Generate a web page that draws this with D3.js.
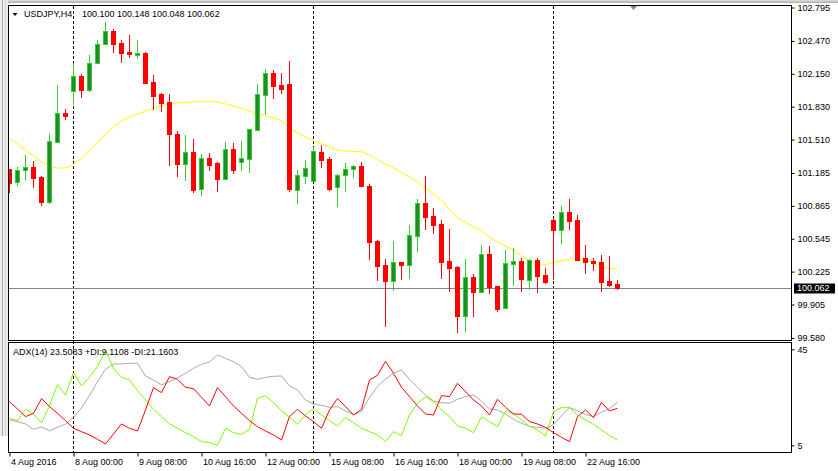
<!DOCTYPE html>
<html><head><meta charset="utf-8">
<script src="https://cdn.jsdelivr.net/npm/d3@7"></script>
<style>
html,body{margin:0;padding:0;background:#fff;}
svg{display:block;}
text{font-family:"Liberation Sans",Arial,sans-serif;}
</style></head><body>
<svg id="chart" width="838" height="471"></svg>
<script>
const symbolTitle = "USDJPY,H4";
const lastOHLC = "100.100 100.148 100.048 100.062";
const adxTitle = "ADX(14) 23.5083 +DI:9.1108 -DI:21.1603";

const openPrices = [101.224,101.094,101.211,101.243,101.146,100.905,101.489,101.769,101.986,102.129,
 101.995,102.258,102.437,102.569,102.450,102.362,102.333,102.355,102.070,101.953,
 101.876,101.564,101.269,101.389,101.026,101.328,101.282,101.129,101.415,101.295,
 101.324,101.603,101.947,102.158,102.041,102.051,101.016,101.158,101.110,101.389,
 101.321,101.046,101.162,101.221,101.253,101.055,100.523,100.290,100.137,100.319,
 100.293,100.575,100.893,100.766,100.689,100.329,100.270,99.796,100.170,100.030,
 100.397,100.085,99.874,100.302,100.329,100.147,100.338,100.192,100.727,100.633,
 100.805,100.727,100.358,100.329,100.319,100.137,100.100];
const highPrices = [101.224,101.243,101.360,101.304,101.153,101.564,102.041,101.807,102.252,102.148,
 102.333,102.479,102.657,102.583,102.479,102.527,102.479,102.365,102.138,101.966,
 101.953,101.593,101.554,101.516,101.370,101.379,101.292,101.486,101.477,101.496,
 101.613,102.051,102.197,102.187,102.158,102.275,101.214,101.311,101.435,101.457,
 101.340,101.175,101.282,101.263,101.292,101.078,100.533,100.348,100.523,100.319,
 100.679,100.935,101.156,100.844,100.727,100.643,100.280,100.348,100.205,100.487,
 100.477,100.085,100.438,100.455,100.358,100.348,100.358,100.260,100.747,100.864,
 100.935,100.776,100.484,100.358,100.387,100.377,100.148];
const lowPrices = [100.993,101.061,101.120,101.042,100.867,100.886,101.477,101.703,101.846,101.917,
 101.976,102.258,102.437,102.355,102.258,102.307,102.297,102.051,101.798,101.781,
 101.256,101.146,101.110,100.993,100.964,101.207,101.003,101.129,101.178,101.207,
 101.188,101.593,101.752,101.908,101.956,101.003,100.886,101.081,101.100,101.236,
 101.013,100.857,101.003,101.139,101.051,100.341,100.137,99.689,100.040,100.147,
 100.156,100.419,100.633,100.594,100.156,100.030,99.631,99.641,99.787,100.030,
 100.010,99.835,99.864,100.088,100.030,100.049,100.020,100.108,100.144,100.497,
 100.633,100.331,100.205,100.234,100.030,100.078,100.048];
const closePrices = [101.090,101.211,101.240,101.139,100.905,101.496,101.769,101.742,102.129,101.995,
 102.252,102.440,102.566,102.443,102.355,102.343,102.349,102.060,101.937,101.869,
 101.567,101.275,101.389,101.022,101.328,101.266,101.129,101.415,101.217,101.328,
 101.613,101.953,102.158,102.034,102.005,101.032,101.162,101.230,101.396,101.314,
 101.032,101.162,101.221,101.250,101.061,100.516,100.283,100.137,100.319,100.293,
 100.581,100.893,100.760,100.682,100.322,100.263,99.796,100.170,100.030,100.397,
 100.078,99.864,100.309,100.329,100.156,100.338,100.185,100.127,100.633,100.802,
 100.721,100.341,100.319,100.312,100.127,100.098,100.062];
const maValues = [101.516,101.467,101.409,101.350,101.292,101.253,101.233,101.233,101.272,101.331,
 101.409,101.477,101.564,101.632,101.691,101.730,101.759,101.788,101.817,101.837,
 101.856,101.866,101.871,101.876,101.880,101.885,101.876,101.856,101.837,101.812,
 101.788,101.759,101.739,101.720,101.691,101.632,101.574,101.535,101.496,101.472,
 101.438,101.409,101.399,101.394,101.392,101.360,101.316,101.272,101.233,101.190,
 101.146,101.097,101.034,100.985,100.917,100.825,100.747,100.708,100.659,100.625,
 100.562,100.513,100.474,100.436,100.377,100.329,100.304,100.290,100.314,100.329,
 100.348,100.353,100.333,100.309,100.275,100.256,100.251];
const adxValues = [16.73,16.09,15.21,13.18,14.07,12.55,13.94,15.21,17.74,21.29,
 25.98,31.30,35.99,38.01,38.01,38.27,38.27,33.45,31.93,30.03,
 31.30,32.82,34.47,36.37,37.89,38.77,41.43,40.17,38.90,37.00,
 32.95,32.19,32.95,33.33,33.45,29.65,28.13,24.33,22.81,22.30,
 21.54,21.80,20.15,18.76,19.90,25.34,29.40,32.31,34.47,35.73,
 32.19,29.14,26.23,23.95,23.32,23.06,24.58,25.60,26.23,23.95,
 20.91,20.53,19.01,16.98,15.46,14.32,13.94,13.56,15.08,18.38,
 21.42,20.28,18.76,17.99,19.77,21.04,23.51];
const plusDI = [17.36,16.47,20.78,19.01,15.71,22.05,30.28,26.23,34.72,29.78,
 32.95,37.00,43.33,36.37,32.95,31.93,27.88,24.33,20.78,17.99,
 15.21,13.56,11.91,10.39,8.49,8.11,7.10,13.56,11.91,11.28,
 13.18,24.96,25.98,23.32,20.28,17.74,15.08,18.63,21.04,18.63,
 16.47,14.45,17.61,15.71,13.56,12.29,11.03,8.49,12.29,10.77,
 18.63,23.06,25.60,23.70,20.53,17.99,14.45,13.56,11.91,17.99,
 16.10,14.19,20.15,19.26,16.73,14.45,12.93,10.65,19.90,21.42,
 21.42,18.63,16.73,15.08,12.93,10.77,9.11];
const minusDI = [23.70,20.91,17.99,19.26,24.84,21.80,19.26,16.47,13.56,12.29,
 11.03,9.38,7.61,11.41,15.21,13.56,12.55,20.53,29.02,27.12,
 33.20,32.19,29.15,28.64,25.35,22.05,29.02,25.60,22.05,19.26,
 16.47,14.19,12.55,11.03,9.13,17.99,20.78,18.25,16.10,13.56,
 20.53,24.84,21.80,18.63,20.78,31.93,33.71,39.03,34.47,29.15,
 25.60,22.05,19.01,18.63,25.98,25.60,30.66,27.50,24.33,22.05,
 18.63,24.58,21.54,19.01,18.88,16.10,15.21,13.94,11.91,10.14,
 8.49,17.99,20.53,17.61,23.44,20.15,21.16];

const priceTicks = [102.795,102.470,102.150,101.830,101.510,101.185,100.865,100.545,100.225,99.905,99.580];
const adxTicks = [45,5];
const timeTickBars = [0,8,16,24,32,40,48,56,64,72];
const timeTickLabels = ["4 Aug 2016","8 Aug 00:00","9 Aug 08:00","10 Aug 16:00","12 Aug 00:00","15 Aug 08:00","16 Aug 16:00","18 Aug 00:00","19 Aug 08:00","22 Aug 16:00"];
const separatorBars = [8,38,68];
const lastPrice = 100.062;

const svg = d3.select("#chart");
const W = 838, H = 471;
const L = 8.5, R = 791.5, mainTop = 5.5, mainBot = 340.5, indTop = 342.5, indBot = 452.5;

const nBars = openPrices.length;
const x = d3.scaleLinear().domain([0, nBars - 1]).range([9, 9 + 8 * (nBars - 1)]);
const yP = d3.scaleLinear().domain([99.580, 102.795]).range([337.9, 7.5]);
const yA = d3.scaleLinear().domain([5, 45]).range([450.8, 345.6]);
const yALabel = d3.scaleLinear().domain([5, 45]).range([445.3, 349.3]);

// window frame
svg.append("rect").attr("x",0).attr("y",0).attr("width",W).attr("height",3).attr("fill","#b4b4b4");
svg.append("rect").attr("x",0).attr("y",0).attr("width",W).attr("height",1.5).attr("fill","#d8d8d8");
svg.append("rect").attr("x",0).attr("y",0).attr("width",8).attr("height",436).attr("fill","#ececec");
svg.append("rect").attr("x",2).attr("y",0).attr("width",1).attr("height",436).attr("fill","#a8a8a8");
svg.append("rect").attr("x",5).attr("y",0).attr("width",1).attr("height",436).attr("fill","#d0d0d0");

const defs = svg.append("defs");
defs.append("clipPath").attr("id","clipMain").append("rect").attr("x",L).attr("y",mainTop).attr("width",R-L).attr("height",mainBot-mainTop);
defs.append("clipPath").attr("id","clipInd").append("rect").attr("x",L).attr("y",indTop).attr("width",R-L).attr("height",indBot-indTop);

// separators
const sep = svg.append("g");
separatorBars.forEach(b => {
  sep.append("line").attr("x1",x(b)+0.5).attr("x2",x(b)+0.5).attr("y1",6).attr("y2",452)
    .attr("stroke","#000").attr("stroke-width",1).attr("stroke-dasharray","3,2");
});

// last price line
const lpY = Math.round(yP(lastPrice)) + 0.5;
svg.append("line").attr("x1",L).attr("x2",R).attr("y1",lpY).attr("y2",lpY).attr("stroke","#778899").attr("stroke-width",1);

// MA
const main = svg.append("g").attr("clip-path","url(#clipMain)");
main.append("path").datum(maValues)
  .attr("d", d3.line().x((d,i)=>x(i)+0.5).y(d=>yP(d)))
  .attr("fill","none").attr("stroke","#ffff00").attr("stroke-width",1);

// candles
const cg = main.append("g");
for (let i = 0; i < nBars; i++) {
  const o = openPrices[i], h = highPrices[i], l = lowPrices[i], c = closePrices[i];
  const up = c >= o;
  const cx = Math.round(x(i));
  const yH = Math.round(yP(h)), yL = Math.round(yP(l));
  const top = Math.round(yP(Math.max(o,c))), bot = Math.round(yP(Math.min(o,c)));
  const bh = Math.max(1, bot - top);
  cg.append("rect").attr("x",cx).attr("y",yH).attr("width",1).attr("height",Math.max(1,yL-yH))
    .attr("fill", up ? "#32cd32" : "#ff0000");
  if (up) {
    cg.append("rect").attr("x",cx-2).attr("y",top).attr("width",5).attr("height",bh+1).attr("fill","#32cd32");
    if (bh > 1) cg.append("rect").attr("x",cx-1).attr("y",top+1).attr("width",3).attr("height",bh-1).attr("fill","#228b22");
  } else {
    cg.append("rect").attr("x",cx-2).attr("y",top).attr("width",5).attr("height",bh+1).attr("fill","#ff0000");
  }
}

// indicator lines
const ind = svg.append("g").attr("clip-path","url(#clipInd)");
const aLine = d3.line().x((d,i)=>x(i)+0.5).y(d=>yA(d));
ind.append("path").datum(adxValues).attr("d",aLine).attr("fill","none").attr("stroke","#a9a9a9").attr("stroke-width",1);
ind.append("path").datum(plusDI).attr("d",aLine).attr("fill","none").attr("stroke","#7cfc00").attr("stroke-width",1);
ind.append("path").datum(minusDI).attr("d",aLine).attr("fill","none").attr("stroke","#ff0000").attr("stroke-width",1);

// panel borders
svg.append("rect").attr("x",L).attr("y",mainTop).attr("width",R-L).attr("height",mainBot-mainTop).attr("fill","none").attr("stroke","#000");
svg.append("rect").attr("x",L).attr("y",indTop).attr("width",R-L).attr("height",indBot-indTop).attr("fill","none").attr("stroke","#000");

// price axis
const pAxis = svg.append("g").attr("transform",`translate(${R},0)`)
  .call(d3.axisRight(yP).tickValues(priceTicks).tickFormat(d3.format(".3f")).tickSize(3).tickPadding(3));
pAxis.select(".domain").remove();
pAxis.selectAll("text").attr("font-family","Liberation Sans, Arial, sans-serif").attr("font-size",9).attr("fill","#000");
pAxis.selectAll("line").attr("stroke","#000");

// adx axis
const aAxis = svg.append("g").attr("transform",`translate(${R},0)`)
  .call(d3.axisRight(yALabel).tickValues(adxTicks).tickFormat(d3.format("d")).tickSize(3).tickPadding(3));
aAxis.select(".domain").remove();
aAxis.selectAll("text").attr("font-family","Liberation Sans, Arial, sans-serif").attr("font-size",9).attr("fill","#000");
aAxis.selectAll("line").attr("stroke","#000");

// time axis
const tAxis = svg.append("g").attr("transform",`translate(0,${indBot})`)
  .call(d3.axisBottom(d3.scaleLinear().domain(x.domain()).range(x.range().map(v=>v+0.5)))
    .tickValues(timeTickBars).tickFormat((d,i)=>timeTickLabels[i]).tickSize(4).tickPadding(2));
tAxis.select(".domain").remove();
tAxis.selectAll("text").attr("text-anchor","start").attr("x",1)
  .attr("font-family","Liberation Sans, Arial, sans-serif").attr("font-size",9).attr("fill","#000");
tAxis.selectAll("line").attr("stroke","#000");

// last price label
const lpc = yP(lastPrice);
svg.append("rect").attr("x",794).attr("y",Math.round(lpc)-4.5).attr("width",41).attr("height",10).attr("fill","#000");
svg.append("text").attr("x",797).attr("y",lpc).attr("dy","0.34em").attr("font-size",9).attr("fill","#fff").text(d3.format(".3f")(lastPrice));

// header
svg.append("path").attr("d","M12.5,13 L17.5,13 L15,16 Z").attr("fill","#000");
svg.append("text").attr("x",24).attr("y",17.3).attr("font-size",9).attr("fill","#000").text(symbolTitle);
svg.append("text").attr("x",82).attr("y",17.3).attr("font-size",9).attr("fill","#000").text(lastOHLC);
svg.append("text").attr("x",13).attr("y",355).attr("font-size",9).attr("fill","#000").text(adxTitle);

// chart shift marker
svg.append("path").attr("d","M630,6 L637,6 L633.5,10 Z").attr("fill","#778899");
</script>
</body></html>
